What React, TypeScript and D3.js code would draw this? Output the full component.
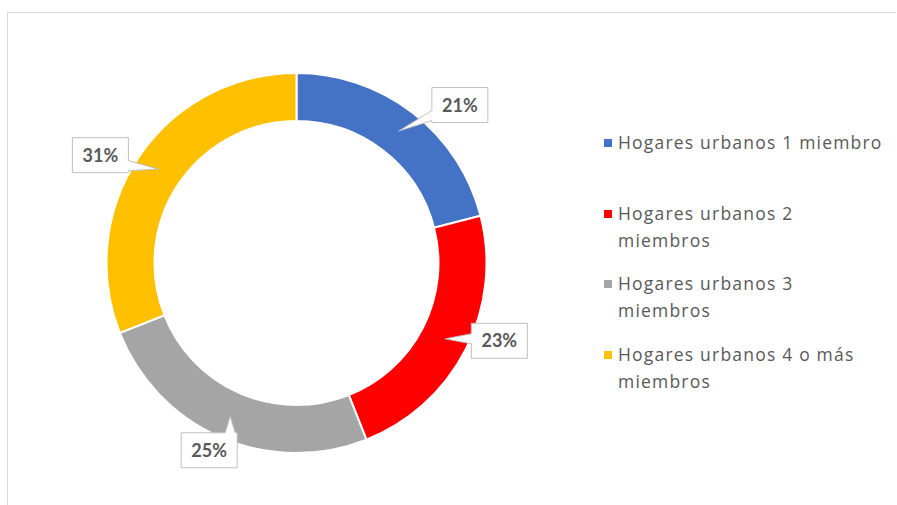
import React, { useEffect, useRef } from "react";
import * as d3 from "d3";

const categories = [
  "Hogares urbanos 1 miembro",
  "Hogares urbanos 2 miembros",
  "Hogares urbanos 3 miembros",
  "Hogares urbanos 4 o más miembros",
];
const values = [21, 23, 25, 31];
const colors = ["#4472C4", "#FF0000", "#A5A5A5", "#FFC000"];
// legend text as it wraps in the original
const legendLines = [
  ["Hogares urbanos 1 miembro"],
  ["Hogares urbanos 2", "miembros"],
  ["Hogares urbanos 3", "miembros"],
  ["Hogares urbanos 4 o más", "miembros"],
];
// where each label box sits relative to its pointer tip
const labelOffsets = [
  [61, -26],
  [54, 2],
  [-21, 34],
  [-58, -14],
];

const W = 897;
const H = 505;

function calloutPath(bx: number, by: number, bw: number, bh: number, tx: number, ty: number) {
  const cx = bx + bw / 2;
  const cy = by + bh / 2;
  const dx = tx - cx;
  const dy = ty - cy;
  const half = 5;
  const clamp = (v: number, a: number, b: number) => Math.max(a, Math.min(b, v));
  const x0 = bx, x1 = bx + bw, y0 = by, y1 = by + bh;
  if (Math.abs(dx) / bw > Math.abs(dy) / bh) {
    const m = clamp(ty, y0 + half + 2, y1 - half - 2);
    if (dx < 0) {
      return `M${x0},${y0}H${x1}V${y1}H${x0}V${m + half}L${tx},${ty}L${x0},${m - half}Z`;
    }
    return `M${x0},${y0}H${x1}V${m - half}L${tx},${ty}L${x1},${m + half}V${y1}H${x0}Z`;
  }
  const m = clamp(tx, x0 + half + 2, x1 - half - 2);
  if (dy < 0) {
    return `M${x0},${y0}H${m - half}L${tx},${ty}L${m + half},${y0}H${x1}V${y1}H${x0}Z`;
  }
  return `M${x0},${y0}H${x1}V${y1}H${m + half}L${tx},${ty}L${m - half},${y1}H${x0}Z`;
}

const App = () => {
  const svgRef = useRef<SVGSVGElement | null>(null);

  useEffect(() => {
    const svg = d3.select(svgRef.current);
    svg.selectAll("*").remove();

    // chart frame (cropped on the right and bottom)
    svg.append("path")
      .attr("d", `M7.5,${H}V12.5H896`)
      .attr("fill", "none")
      .attr("stroke", "#d9d9d9")
      .attr("stroke-width", 1);

    const cx = 296.5;
    const cy = 263;
    const outerR = 190;
    const innerR = 142;

    const pie = d3.pie<number>().sort(null).value((d) => d);
    const arcs = pie(values);
    const arc = d3.arc<d3.PieArcDatum<number>>().innerRadius(innerR).outerRadius(outerR);
    const midArc = d3.arc<d3.PieArcDatum<number>>()
      .innerRadius((innerR + outerR) / 2 + 1)
      .outerRadius((innerR + outerR) / 2 + 1);

    const g = svg.append("g").attr("transform", `translate(${cx},${cy})`);
    g.selectAll("path.slice")
      .data(arcs)
      .enter()
      .append("path")
      .attr("class", "slice")
      .attr("d", arc)
      .attr("fill", (d, i) => colors[i])
      .attr("stroke", "#ffffff")
      .attr("stroke-width", 2);

    // data labels with callouts
    const total = d3.sum(values);
    arcs.forEach((a, i) => {
      const [tx, ty] = midArc.centroid(a);
      const bw = 56;
      const bh = 35;
      const bcx = tx + labelOffsets[i][0];
      const bcy = ty + labelOffsets[i][1];
      const bx = bcx - bw / 2;
      const by = bcy - bh / 2;
      g.append("path")
        .attr("d", calloutPath(bx, by, bw, bh, tx, ty))
        .attr("fill", "#ffffff")
        .attr("stroke", "#bfbfbf")
        .attr("stroke-width", 1);
      g.append("text")
        .attr("x", bcx)
        .attr("y", bcy)
        .attr("dy", "0.36em")
        .attr("text-anchor", "middle")
        .attr("font-family", "Lato, 'Open Sans', sans-serif")
        .attr("font-weight", "bold")
        .attr("font-size", 18)
        .attr("fill", "#595959")
        .text(`${Math.round((values[i] / total) * 100)}%`);
    });

    // legend
    const legendY = [143, 214, 284, 355];
    const lineH = 27;
    const legend = svg.append("g");
    categories.forEach((c, i) => {
      legend.append("rect")
        .attr("x", 604)
        .attr("y", legendY[i] - 4)
        .attr("width", 8)
        .attr("height", 8)
        .attr("fill", colors[i]);
      legendLines[i].forEach((line, j) => {
        legend.append("text")
          .attr("x", 618)
          .attr("y", legendY[i] + j * lineH)
          .attr("dy", "0.36em")
          .attr("font-family", "'Open Sans', sans-serif")
          .attr("font-size", 17.5)
          .attr("letter-spacing", 1.2)
          .attr("fill", "#595959")
          .text(line);
      });
    });
  }, []);

  return (
    <svg
      ref={svgRef}
      width={W}
      height={H}
      style={{ position: "absolute", left: 0, top: 0, background: "#ffffff" }}
    ></svg>
  );
};

export default App;
